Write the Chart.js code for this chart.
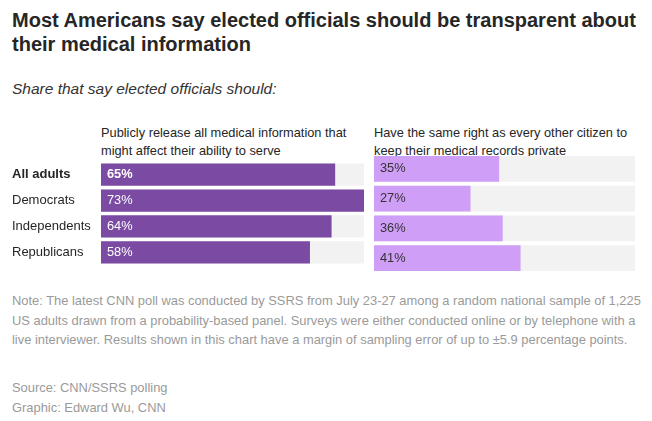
<!DOCTYPE html>
<html><head><meta charset="utf-8">
<script src="https://cdn.jsdelivr.net/npm/chart.js@4"></script>
<style>
body{margin:0;background:#fff;font-family:"Liberation Sans",Arial,sans-serif;color:#262626;width:652px;height:421px;position:relative;overflow:hidden}
.abs{position:absolute}
h1{position:absolute;left:12px;top:8px;margin:0;font-size:20px;line-height:24px;font-weight:bold;width:630px}
.sub{left:12px;top:80px;font-size:15.5px;font-style:italic;color:#333}
.hd{font-size:12.8px;line-height:18px;color:#262626;top:124px}
.note{left:12px;top:291px;font-size:12.9px;line-height:19.5px;color:#9a9a9a;width:632px}
.src{left:12px;top:378px;font-size:12.9px;line-height:19.5px;color:#9a9a9a}
</style></head><body>
<h1>Most Americans say elected officials should be transparent about their medical information</h1>
<div class="abs sub">Share that say elected officials should:</div>
<div class="abs hd" style="left:101px;width:262px">Publicly release all medical information that might affect their ability to serve</div>
<div class="abs hd" style="left:374px;width:270px">Have the same right as every other citizen to keep their medical records private</div>
<div class="abs" style="left:12px;top:154px;width:352px;height:119px"><canvas id="c1"></canvas></div>
<div class="abs" style="left:374px;top:154px;width:261px;height:119px"><canvas id="c2"></canvas></div>
<div class="abs note">Note: The latest CNN poll was conducted by SSRS from July 23-27 among a random national sample of 1,225 US adults drawn from a probability-based panel. Surveys were either conducted online or by telephone with a live interviewer. Results shown in this chart have a margin of sampling error of up to ±5.9 percentage points.</div>
<div class="abs src">Source: CNN/SSRS polling<br>Graphic: Edward Wu, CNN</div>
<script>
const groups = ['All adults', 'Democrats', 'Independents', 'Republicans'];
const release = [65, 73, 64, 58];
const privateRight = [35, 27, 36, 41];
const scaleMax = 73;

const labelPlugin = {
  id: 'inlabels',
  afterDatasetsDraw(chart) {
    const ctx = chart.ctx;
    const opts = chart.options.plugins.inlabels;
    const meta = chart.getDatasetMeta(1);
    ctx.save();
    ctx.textBaseline = 'middle';
    ctx.fillStyle = opts.color;
    meta.data.forEach((bar, i) => {
      ctx.font = (i === 0 && opts.boldFirst ? 'bold ' : '') + '12.8px "Liberation Sans", Arial, sans-serif';
      ctx.fillText(chart.data.datasets[1].data[i] + '%', chart.chartArea.left + 6, bar.y);
    });
    ctx.restore();
  }
};

function makeChart(id, values, color, textColor, showAxis) {
  return new Chart(document.getElementById(id), {
    type: 'bar',
    data: {
      labels: groups,
      datasets: [
        { data: groups.map(() => scaleMax), backgroundColor: '#f2f2f2', order: 2 },
        { data: values, backgroundColor: color, order: 1 }
      ]
    },
    options: {
      indexAxis: 'y', responsive: true, maintainAspectRatio: false, animation: false,
      layout: { padding: 0 },
      datasets: { bar: { grouped: false, barPercentage: 1, categoryPercentage: 0.86 } },
      plugins: { legend: { display: false }, tooltip: { enabled: false }, inlabels: { color: textColor, boldFirst: showAxis } },
      scales: {
        x: { display: false, min: 0, max: scaleMax },
        y: {
          display: showAxis,
          grid: { display: false }, border: { display: false },
          afterFit(a) { a.width = showAxis ? 89 : 0; },
          ticks: {
            crossAlign: 'far', padding: 0, color: '#262626',
            font: c => ({ family: '"Liberation Sans", Arial, sans-serif', size: 13, weight: c.index === 0 ? 'bold' : 'normal' })
          }
        }
      }
    },
    plugins: [labelPlugin]
  });
}
makeChart('c1', release, '#7b4ba4', '#ffffff', true);
makeChart('c2', privateRight, '#cf9ef6', '#333333', false);
</script>
</body></html>
